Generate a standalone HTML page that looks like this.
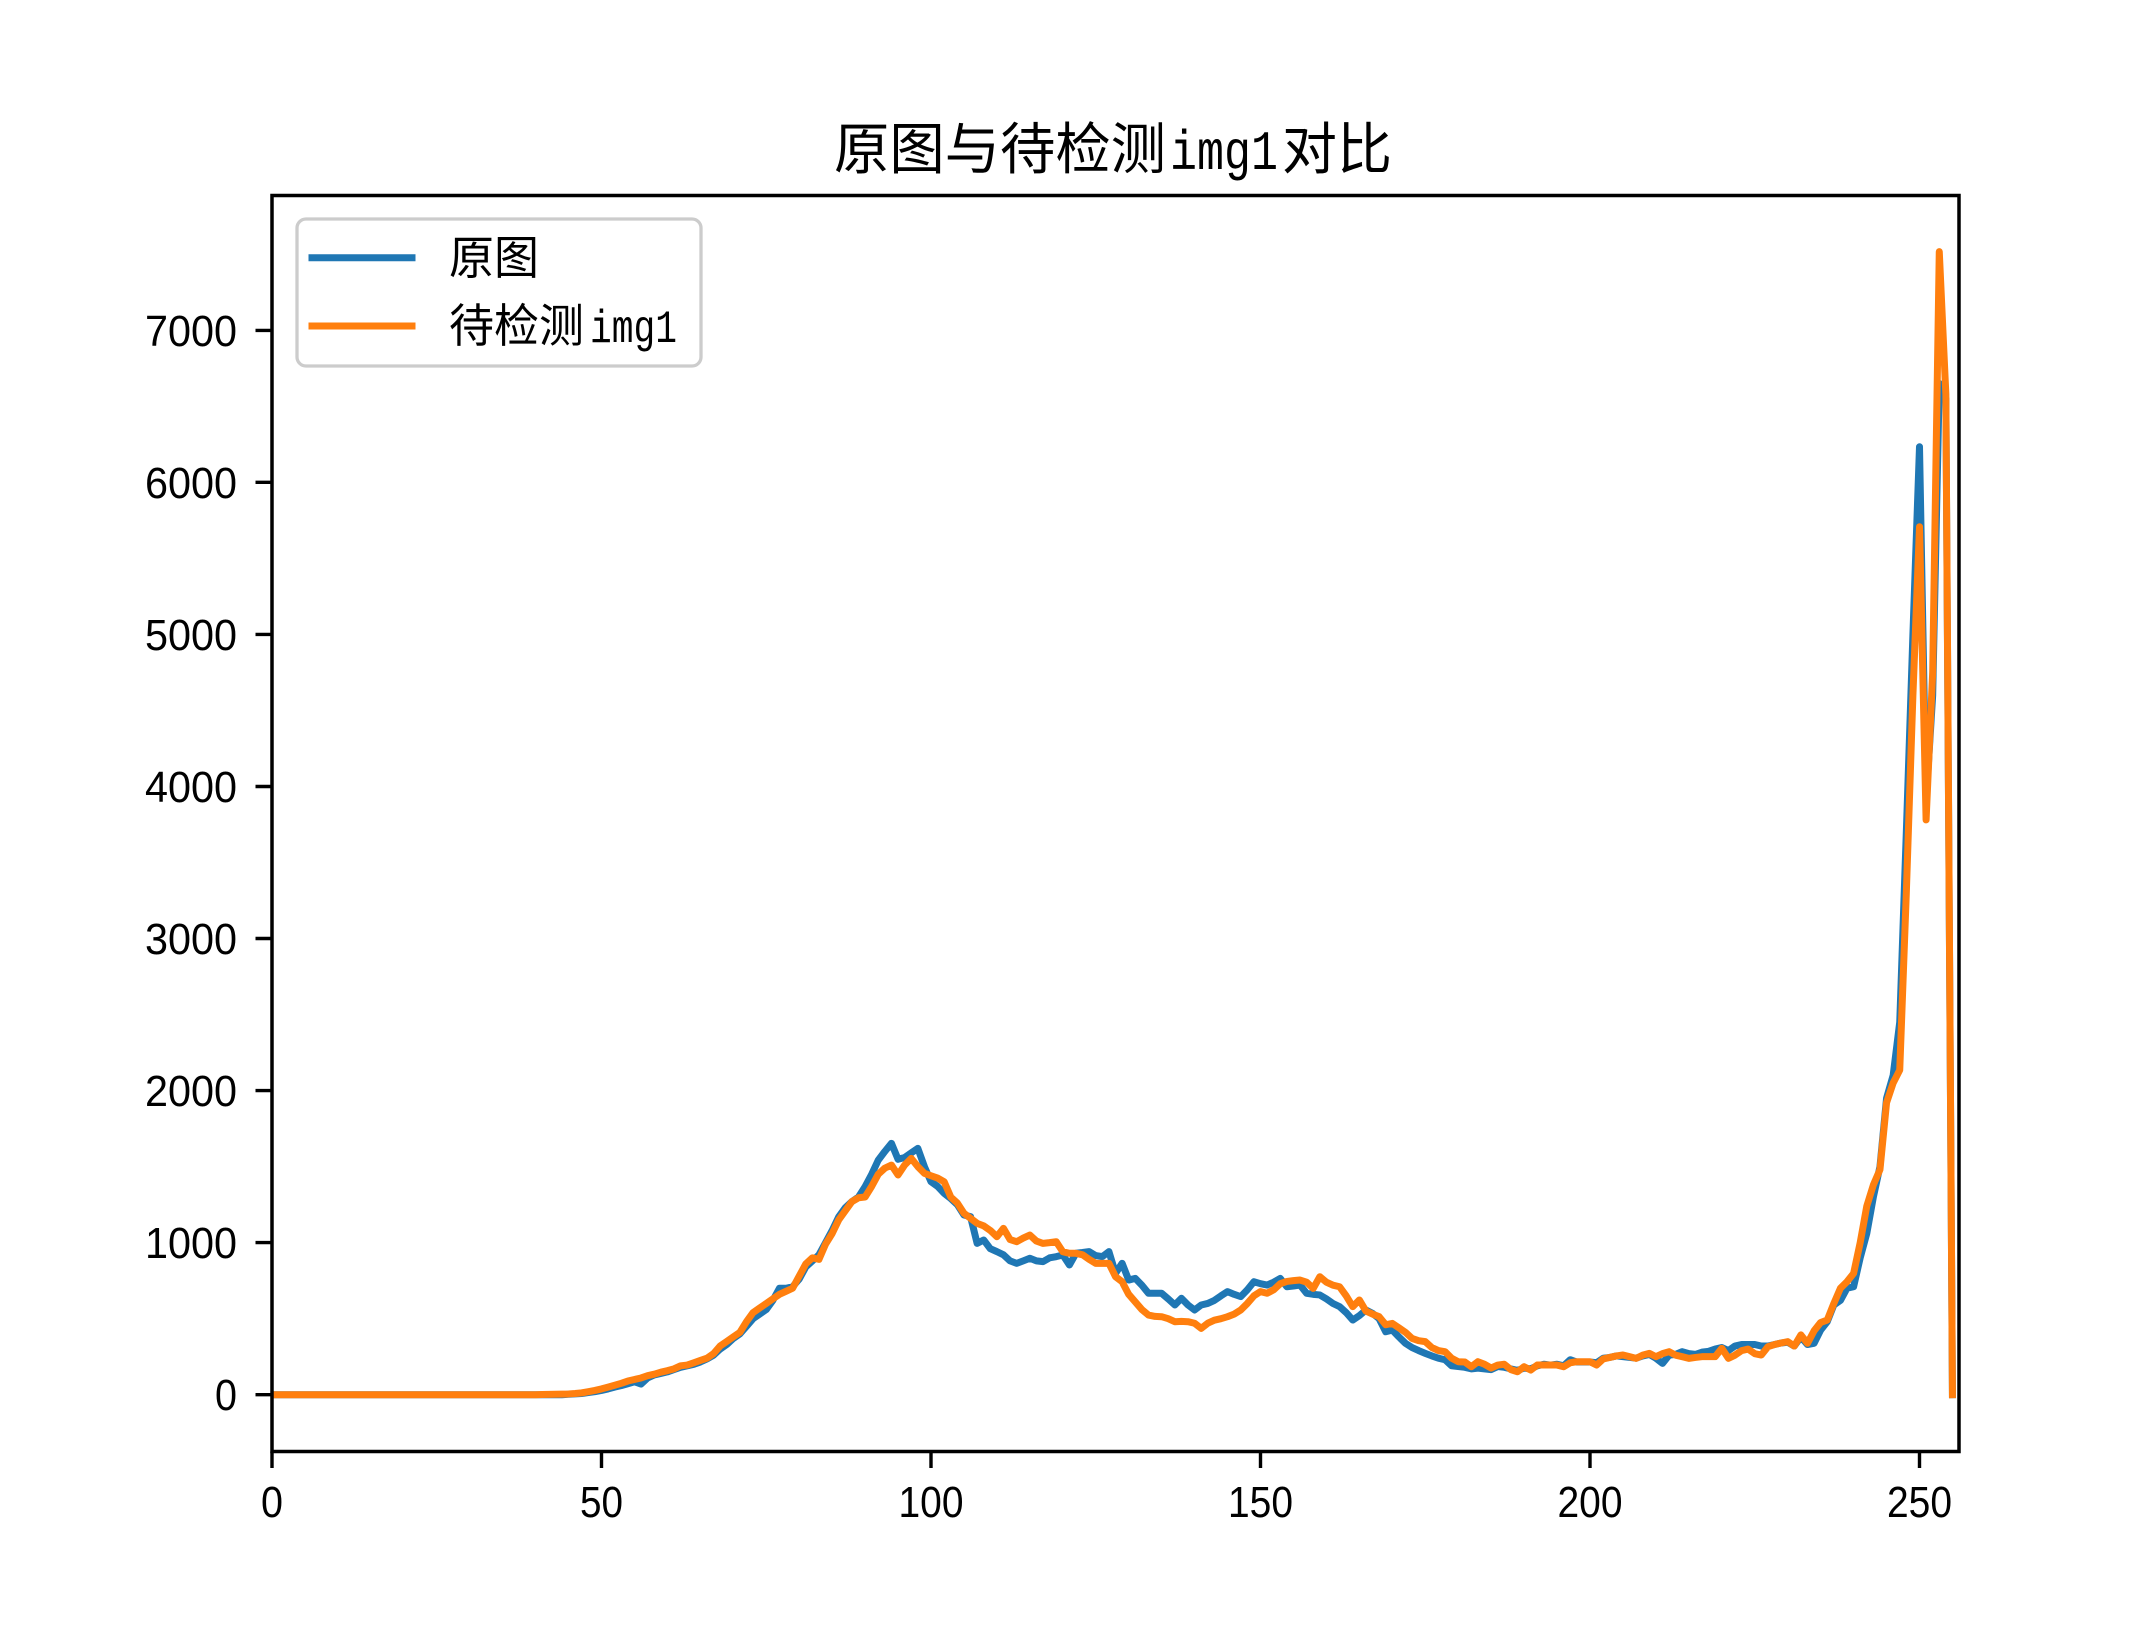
<!DOCTYPE html>
<html>
<head>
<meta charset="utf-8">
<style>
html,body{margin:0;padding:0;background:#fff;}
svg{display:block;}
text{font-family:"Liberation Sans","Noto Sans CJK SC",sans-serif;fill:#000;}
.mono{font-family:"Liberation Mono","Noto Sans CJK SC",monospace;}
</style>
</head>
<body>
<svg width="2129" height="1632" viewBox="0 0 2129 1632" xmlns="http://www.w3.org/2000/svg">
<rect x="0" y="0" width="2129" height="1632" fill="#fff"/>

<!-- title -->
<text x="834" y="169" font-size="56" textLength="332" lengthAdjust="spacingAndGlyphs">原图与待检测</text>
<text class="mono" x="1170" y="169" font-size="56" textLength="108" lengthAdjust="spacingAndGlyphs">img1</text>
<text x="1282" y="169" font-size="56" textLength="110" lengthAdjust="spacingAndGlyphs">对比</text>

<!-- data -->
<defs>
<clipPath id="ax"><rect x="272" y="195.5" width="1687" height="1256"/></clipPath>
</defs>
<g clip-path="url(#ax)">
<g transform="translate(272,1394.7) scale(6.59,-0.15206)">
<polyline fill="none" stroke="#1f77b4" stroke-width="7" stroke-linejoin="round" stroke-linecap="square" vector-effect="non-scaling-stroke" points="0,0 44,0 45,3 46,5 47,8 48,14 49,20 50,28 51,38 52,50 53,60 54,72 55,85 56,70 57,110 58,130 59,140 60,150 61,165 62,180 63,190 64,200 65,215 66,235 67,260 68,300 69,330 70,370 71,400 72,450 73,500 74,530 75,560 76,620 77,700 78,700 79,710 80,760 81,840 82,880 83,920 84,1000 85,1080 86,1170 87,1230 88,1270 89,1300 90,1368 91,1450 92,1543 93,1600 94,1653 95,1548 96,1560 97,1590 98,1620 99,1500 100,1401 101,1370 102,1324 103,1290 104,1250 105,1182 106,1171 107,995 108,1017 109,960 110,941 111,920 112,880 113,864 114,880 115,897 116,880 117,875 118,900 119,908 120,919 121,853 122,930 123,935 124,941 125,915 126,908 127,941 128,798 129,864 130,754 131,765 132,720 133,667 134,667 135,667 136,630 137,590 138,634 139,590 140,557 141,590 142,600 143,620 144,650 145,678 146,660 147,645 148,690 149,743 150,730 151,721 152,740 153,765 154,710 155,715 156,721 157,667 158,660 159,656 160,630 161,600 162,579 163,540 164,491 165,520 166,557 167,535 168,500 169,414 170,425 171,380 172,338 173,310 174,290 175,272 176,255 177,240 178,230 179,190 180,185 181,180 182,170 183,175 184,170 185,165 186,185 187,180 188,170 189,160 190,175 191,170 192,190 193,200 194,195 195,200 196,190 197,230 198,215 199,215 200,215 201,210 202,240 203,245 204,255 205,250 206,245 207,240 208,255 209,265 210,240 211,206 212,260 213,265 214,283 215,270 216,265 217,280 218,285 219,300 220,310 221,290 222,320 223,330 224,330 225,330 226,320 227,320 228,330 229,340 230,345 231,320 232,380 233,330 234,338 235,425 236,480 237,590 238,620 239,700 240,710 241,900 242,1060 243,1300 244,1500 245,1950 246,2100 247,2450 248,3700 249,5000 250,6234 251,3900 252,4600 253,6650 254,6550 255,0"/>
<polyline fill="none" stroke="#ff7f0e" stroke-width="7" stroke-linejoin="round" stroke-linecap="square" vector-effect="non-scaling-stroke" points="0,0 40,0 41,1 42,2 43,3 44,4 45,5 46,8 47,12 48,20 49,28 50,38 51,50 52,62 53,75 54,90 55,100 56,110 57,125 58,135 59,148 60,158 61,170 62,190 63,195 64,210 65,225 66,240 67,270 68,320 69,350 70,380 71,410 72,480 73,540 74,570 75,600 76,630 77,660 78,680 79,700 80,780 81,860 82,900 83,890 84,990 85,1060 86,1150 87,1210 88,1270 89,1295 90,1300 91,1370 92,1450 93,1490 94,1510 95,1445 96,1510 97,1554 98,1500 99,1456 100,1440 101,1425 102,1400 103,1300 104,1260 105,1193 106,1160 107,1127 108,1110 109,1080 110,1039 111,1094 112,1020 113,1006 114,1030 115,1050 116,1010 117,995 118,1000 119,1006 120,940 121,930 122,930 123,920 124,890 125,864 126,864 127,864 128,776 129,743 130,660 131,610 132,560 133,524 134,515 135,513 136,500 137,480 138,482 139,480 140,470 141,436 142,470 143,490 144,500 145,513 146,530 147,557 148,600 149,650 150,678 151,667 152,690 153,730 154,745 155,750 156,754 157,740 158,699 159,776 160,740 161,720 162,710 163,650 164,579 165,623 166,550 167,530 168,513 169,460 170,469 171,440 172,410 173,370 174,355 175,349 176,310 177,290 178,283 179,240 180,217 181,215 182,184 183,217 184,200 185,175 186,195 187,200 188,165 189,151 190,184 191,162 192,195 193,195 194,195 195,195 196,184 197,210 198,217 199,217 200,217 201,195 202,235 203,245 204,255 205,261 206,250 207,239 208,260 209,272 210,250 211,270 212,283 213,260 214,250 215,239 216,245 217,250 218,250 219,250 220,305 221,239 222,260 223,290 224,300 225,270 226,261 227,316 228,330 229,340 230,349 231,320 232,393 233,338 234,420 235,475 236,491 237,600 238,700 239,743 240,798 241,1000 242,1240 243,1380 244,1480 245,1920 246,2050 247,2135 248,3300 249,4600 250,5708 251,3780 252,4750 253,7517 254,6580 255,0"/>
</g>
</g>

<!-- spines -->
<rect x="272" y="195.5" width="1687" height="1256" fill="none" stroke="#000" stroke-width="3.5"/>

<!-- x ticks -->
<g stroke="#000" stroke-width="3.4">
<line x1="272" y1="1451.5" x2="272" y2="1468"/>
<line x1="601.5" y1="1451.5" x2="601.5" y2="1468"/>
<line x1="931" y1="1451.5" x2="931" y2="1468"/>
<line x1="1260.5" y1="1451.5" x2="1260.5" y2="1468"/>
<line x1="1590" y1="1451.5" x2="1590" y2="1468"/>
<line x1="1919.5" y1="1451.5" x2="1919.5" y2="1468"/>
</g>
<g font-size="44" text-anchor="middle">
<text x="272" y="1517" textLength="22" lengthAdjust="spacingAndGlyphs">0</text>
<text x="601.5" y="1517" textLength="43" lengthAdjust="spacingAndGlyphs">50</text>
<text x="931" y="1517" textLength="65" lengthAdjust="spacingAndGlyphs">100</text>
<text x="1260.5" y="1517" textLength="65" lengthAdjust="spacingAndGlyphs">150</text>
<text x="1590" y="1517" textLength="65" lengthAdjust="spacingAndGlyphs">200</text>
<text x="1919.5" y="1517" textLength="65" lengthAdjust="spacingAndGlyphs">250</text>
</g>

<!-- y ticks -->
<g stroke="#000" stroke-width="3.4">
<line x1="255.5" y1="1394.7" x2="272" y2="1394.7"/>
<line x1="255.5" y1="1242.6" x2="272" y2="1242.6"/>
<line x1="255.5" y1="1090.6" x2="272" y2="1090.6"/>
<line x1="255.5" y1="938.5" x2="272" y2="938.5"/>
<line x1="255.5" y1="786.5" x2="272" y2="786.5"/>
<line x1="255.5" y1="634.4" x2="272" y2="634.4"/>
<line x1="255.5" y1="482.3" x2="272" y2="482.3"/>
<line x1="255.5" y1="330.4" x2="272" y2="330.4"/>
</g>
<g font-size="44" text-anchor="end">
<text x="237" y="1410" textLength="22" lengthAdjust="spacingAndGlyphs">0</text>
<text x="237" y="1258" textLength="92" lengthAdjust="spacingAndGlyphs">1000</text>
<text x="237" y="1106" textLength="92" lengthAdjust="spacingAndGlyphs">2000</text>
<text x="237" y="954" textLength="92" lengthAdjust="spacingAndGlyphs">3000</text>
<text x="237" y="802" textLength="92" lengthAdjust="spacingAndGlyphs">4000</text>
<text x="237" y="650" textLength="92" lengthAdjust="spacingAndGlyphs">5000</text>
<text x="237" y="498" textLength="92" lengthAdjust="spacingAndGlyphs">6000</text>
<text x="237" y="346" textLength="92" lengthAdjust="spacingAndGlyphs">7000</text>
</g>

<!-- legend -->
<rect x="297" y="219" width="404" height="147" rx="9" ry="9" fill="#fff" fill-opacity="0.8" stroke="#cccccc" stroke-width="3.3"/>
<line x1="312" y1="257.7" x2="412" y2="257.7" stroke="#1f77b4" stroke-width="7" stroke-linecap="square"/>
<line x1="312" y1="326" x2="412" y2="326" stroke="#ff7f0e" stroke-width="7" stroke-linecap="square"/>
<text x="449" y="274" font-size="46" textLength="90" lengthAdjust="spacingAndGlyphs">原图</text>
<text x="449" y="342" font-size="46" textLength="135" lengthAdjust="spacingAndGlyphs">待检测</text>
<text class="mono" x="590" y="342" font-size="46" textLength="87" lengthAdjust="spacingAndGlyphs">img1</text>
</svg>
</body>
</html>
